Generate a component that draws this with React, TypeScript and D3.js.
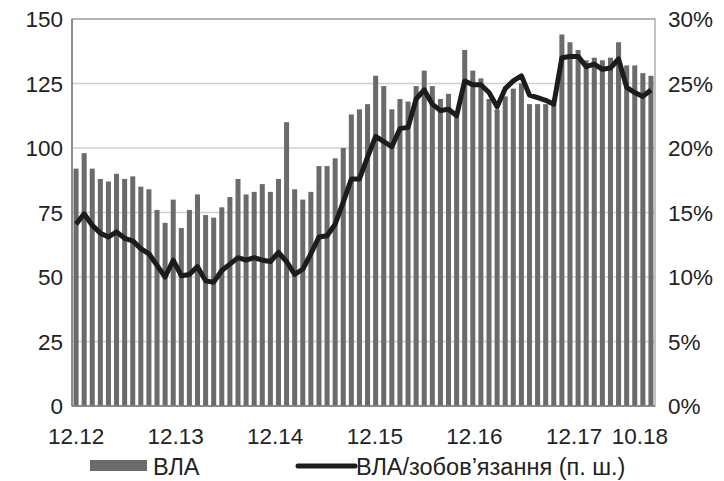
import React from 'react';
import * as d3 from 'd3';

// monthly values, 12.12 .. 11.18
const vla = [92, 98, 92, 88, 87, 90, 88, 89, 85, 84, 76, 71, 80, 69, 76, 82, 74, 73, 77, 81, 88, 82, 83, 86, 83, 88, 110, 84, 80, 83, 93, 93, 96, 100, 113, 115, 117, 128, 124, 115, 119, 118, 124, 130, 124, 119, 121, 113, 138, 130, 127, 119, 115, 120, 123, 125, 117, 117, 117, 117, 144, 141, 138, 134, 135, 134, 135, 141, 132, 132, 129, 128];
const ratio = [14.1, 14.9, 14.0, 13.4, 13.1, 13.5, 13.0, 12.8, 12.2, 11.8, 10.9, 10.0, 11.3, 10.1, 10.2, 10.8, 9.7, 9.6, 10.5, 11.0, 11.5, 11.3, 11.5, 11.3, 11.2, 11.9, 11.2, 10.2, 10.6, 11.8, 13.1, 13.2, 14.1, 15.8, 17.6, 17.6, 19.3, 20.9, 20.5, 20.1, 21.5, 21.6, 23.8, 24.5, 23.4, 22.9, 23.0, 22.5, 25.2, 24.9, 24.9, 24.3, 23.2, 24.6, 25.2, 25.6, 24.1, 23.9, 23.7, 23.4, 27.0, 27.1, 27.1, 26.3, 26.5, 26.1, 26.2, 26.9, 24.7, 24.3, 24.0, 24.5];
const months = d3.range(vla.length).map((i) => {
  const m = ((11 + i) % 12) + 1;
  const y = 12 + Math.floor((11 + i) / 12);
  return `${String(m).padStart(2, '0')}.${y}`;
});
const xTicks = ['12.12', '12.13', '12.14', '12.15', '12.16', '12.17', '10.18'];
const leftTicks = [0, 25, 50, 75, 100, 125, 150];
const rightTicks = [0, 5, 10, 15, 20, 25, 30];

const W = 724;
const H = 481;
const margin = { top: 19, right: 69, bottom: 75, left: 72 };
const font = 'Liberation Sans, Arial, sans-serif';
const fs = 22.5;

export default function App() {
  const innerW = W - margin.left - margin.right;
  const innerH = H - margin.top - margin.bottom;

  const x = d3.scaleBand().domain(months).range([0, innerW]).paddingInner(0.38).paddingOuter(0.19);
  const y = d3.scaleLinear().domain([0, 150]).range([innerH, 0]);
  const y2 = d3.scaleLinear().domain([0, 30]).range([innerH, 0]);
  const cx = (m: string) => (x(m) ?? 0) + x.bandwidth() / 2;

  // year labels sit a bit wider apart than the bars (as in the source)
  const labelX = d3.scaleLinear().domain([0, 5]).range([cx('12.12'), cx('12.12') + 498]);

  const line = d3.line<number>()
    .x((_, i) => cx(months[i]))
    .y((d) => y2(d));

  return (
    <svg width={W} height={H} style={{ display: 'block', position: 'absolute', left: 0, top: 0 }}>
      <rect width={W} height={H} fill="#fff" />
      <g transform={`translate(${margin.left},${margin.top})`}>
        {/* gridlines */}
        {leftTicks.slice(1).map((t) => (
          <line key={t} x1={0} x2={innerW} y1={y(t)} y2={y(t)} stroke="#cfcfcf" strokeWidth={1.5} />
        ))}
        {/* bars */}
        {vla.map((v, i) => (
          <rect key={i} x={x(months[i])} y={y(v)} width={x.bandwidth()} height={innerH - y(v)} fill="#6b6b6b" />
        ))}
        <path d={line(ratio) ?? ''} fill="none" stroke="#1c1c1c" strokeWidth={5} strokeLinejoin="round" />
        {/* frame */}
        <rect x={0} y={0} width={innerW} height={innerH} fill="none" stroke="#9a9a9a" strokeWidth={1.2} />
        <line x1={0} x2={innerW} y1={innerH} y2={innerH} stroke="#7a7a7a" strokeWidth={1.5} />
        <line x1={0} x2={0} y1={0} y2={innerH} stroke="#7a7a7a" strokeWidth={1.5} />
        {/* left axis */}
        {leftTicks.map((t) => (
          <text key={t} x={-9} y={y(t)} dy="0.36em" textAnchor="end" fontFamily={font} fontSize={fs} fill="#222">
            {t}
          </text>
        ))}
        {/* right axis */}
        {rightTicks.map((t) => (
          <text key={t} x={innerW + 13} y={y2(t)} dy="0.36em" textAnchor="start" fontFamily={font} fontSize={fs} fill="#222">
            {`${t}%`}
          </text>
        ))}
        {/* x axis */}
        {xTicks.map((t, i) => {
          const last = i === xTicks.length - 1;
          return (
            <text key={t} x={last ? innerW + 13 : labelX(i)} y={innerH + 38} textAnchor={last ? 'end' : 'middle'} fontFamily={font} fontSize={fs} fill="#222">
              {t}
            </text>
          );
        })}
      </g>
      {/* legend */}
      <g fontFamily={font} fontSize={23.5} fill="#222">
        <rect x={90} y={460} width={57} height={11} fill="#6b6b6b" />
        <text x={153} y={475}>ВЛА</text>
        <line x1={298} x2={355} y1={466} y2={466} stroke="#1c1c1c" strokeWidth={5} strokeLinecap="round" />
        <text x={356} y={475}>ВЛА/зобов’язання (п. ш.)</text>
      </g>
    </svg>
  );
}
